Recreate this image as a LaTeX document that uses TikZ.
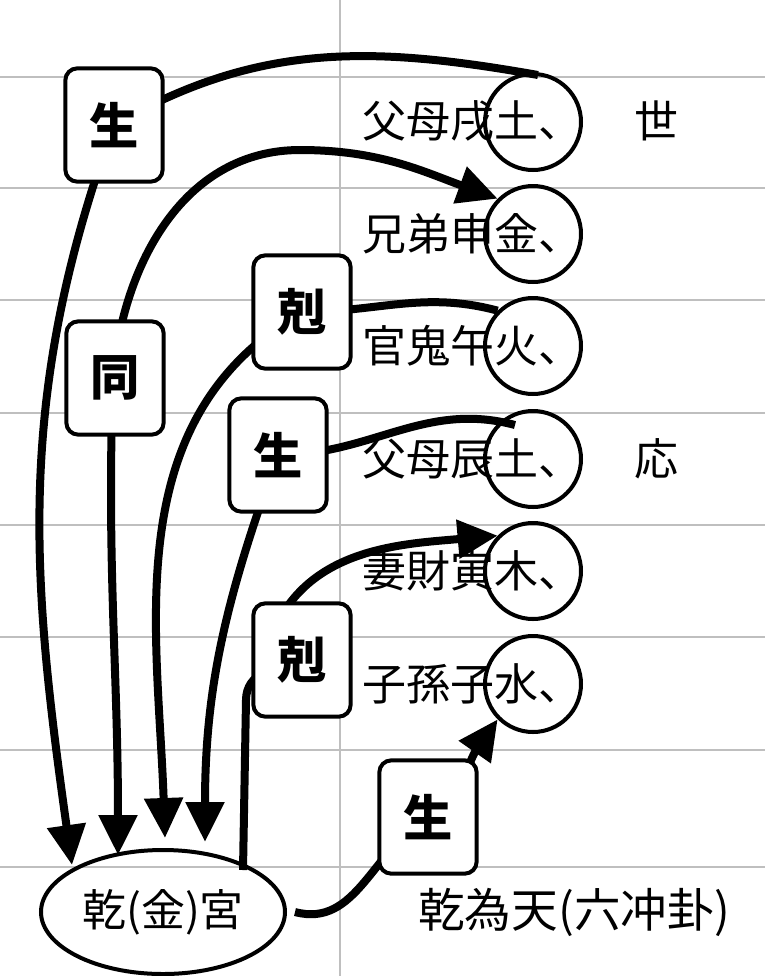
\documentclass[tikz,border=0pt]{standalone}
\usepackage{fontspec}
\setmainfont{Noto Sans CJK JP}
\usetikzlibrary{arrows.meta,shapes.geometric}
\begin{document}
\begin{tikzpicture}[x=0.75pt,y=-0.75pt,
  grid/.style={draw=black!25,line width=1.2pt},
  conn/.style={line width=6pt},
  arr/.style={conn,-{Triangle[length=30pt,width=28pt]}},
  lbl/.style={draw,line width=3pt,rounded corners=9pt,fill=white,minimum width=73pt,minimum height=85pt,font=\fontsize{37}{37}\selectfont\bfseries},
  row/.style={anchor=west,font=\fontsize{33}{33}\selectfont,inner sep=0pt},
  ring/.style={draw,line width=3pt,circle,minimum size=72pt,inner sep=0pt}]
\useasboundingbox (0,0) rectangle (765,976);
\fill[white] (0,0) rectangle (765,976);
\foreach \y in {77,188,300,413,525,637,750,867} \draw[grid] (0,\y) -- (765,\y);
\draw[grid] (340,0) -- (340,976);
% rows
\node[row] (r1) at (362,121) {父母戌土、};
\node[row] (r2) at (362,234) {兄弟申金、};
\node[row] (r3) at (362,346) {官鬼午火、};
\node[row] (r4) at (362,459) {父母辰土、};
\node[row] (r5) at (362,571) {妻財寅木、};
\node[row] (r6) at (362,684) {子孫子水、};
\node[row] (shi) at (634,121) {世};
\node[row] (ying) at (634,459) {応};
\foreach \i/\y in {1/122,2/234,3/346,4/459,5/571,6/684}
  \node[ring] (c\i) at (533,\y) {};
\node[draw,line width=3pt,ellipse,minimum width=183pt,minimum height=93pt,font=\fontsize{33}{33}\selectfont] (gong) at (163,912) {乾(金)宮};
\node[anchor=west,font=\fontsize{35}{35}\selectfont,inner sep=0pt] (gua) at (418,912) {乾為天(六冲卦)};
% coordinates
\coordinate (e1) at (72,865);
\coordinate (e2) at (118,855);
\coordinate (e3) at (165,838);
\coordinate (e4) at (205,842);
\coordinate (e5) at (243,870);
\coordinate (e6) at (295,912);
% connectors
\draw[conn] (538,75) to[out=170,in=30] (114,125);
\draw[arr] (114,125) to[out=-110,in=98] (e1);
\draw[arr] (113,378) to[out=85,in=180] (300,150) to[out=0,in=160] (c2.north west);
\draw[arr] (113,378) to[out=-92,in=90] (e2);
\draw[conn] (c3.north west) to[out=165,in=0] (302,312);
\draw[arr] (302,312) to[out=-150,in=92] (e3);
\draw[conn] (515,425) to[out=165,in=0] (278,455);
\draw[arr] (278,455) to[out=-110,in=90] (e4);
\draw[conn] (e5) -- (246,700) to[out=90,in=190] (302,660);
\draw[arr] (270,640) to[out=70,in=185] (c5.north west);
\draw[conn] (e6) to[out=-15,in=210] (428,817);
\draw[arr] (428,817) to[out=40,in=235] (c6.south west);
% labels
\node[lbl] (l1) at (114,125) {生};
\node[lbl] (l2) at (115,378) {同};
\node[lbl] (l3) at (302,312) {剋};
\node[lbl] (l4) at (278,455) {生};
\node[lbl] (l5) at (302,660) {剋};
\node[lbl] (l6) at (428,817) {生};
\end{tikzpicture}
\end{document}
